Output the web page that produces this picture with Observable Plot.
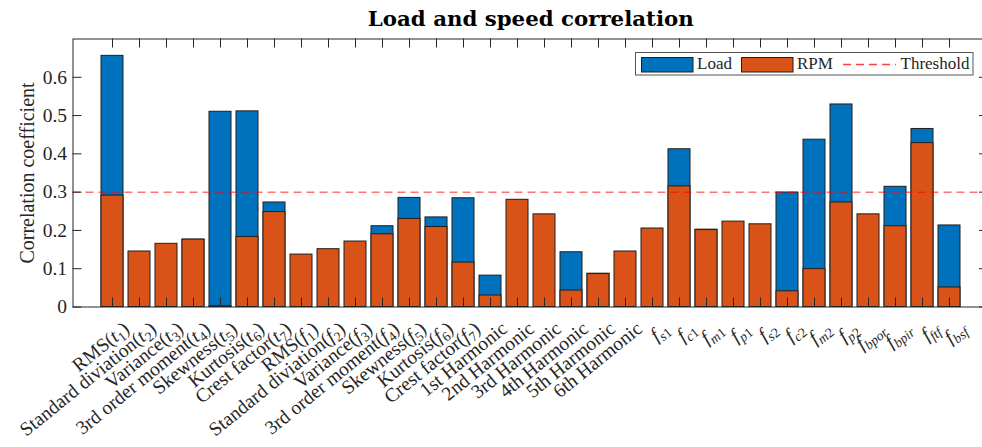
<!DOCTYPE html>
<html>
<head>
<meta charset="utf-8">
<script src="https://cdn.jsdelivr.net/npm/d3@7"></script>
<script src="https://cdn.jsdelivr.net/npm/@observablehq/plot@0.6"></script>
<style>
  body { margin: 0; background: #fff; }
  #chart { width: 982px; height: 447px; }
</style>
</head>
<body>
<div id="chart"></div>
<script>
// Feature names; "x_{..}" marks a math variable with a subscript.
const features = [
  "RMS(t_1)", "Standard diviation(t_2)", "Variance(t_3)", "3rd order moment(t_4)",
  "Skewness(t_5)", "Kurtosis(t_6)", "Crest factor(t_7)",
  "RMS(f_1)", "Standard diviation(f_2)", "Variance(f_3)", "3rd order moment(f_4)",
  "Skewness(f_5)", "Kurtosis(f_6)", "Crest factor(f_7)",
  "1st Harmonic", "2nd Harmonic", "3rd Harmonic", "4th Harmonic", "5th Harmonic", "6th Harmonic",
  "f_{s1}", "f_{c1}", "f_{m1}", "f_{p1}", "f_{s2}", "f_{c2}", "f_{m2}", "f_{p2}",
  "f_{bpor}", "f_{bpir}", "f_{ftf}", "f_{bsf}"
];

// Correlation with load (null where the load bar lies fully behind the RPM bar)
const load = [
  0.656, null, null, 0.176, 0.510, 0.511, 0.273,
  null, null, null, 0.211, 0.285, 0.234, 0.284,
  0.082, null, null, 0.143, 0.087, null,
  null, 0.412, 0.202, null, null, 0.299, 0.437, 0.529,
  null, 0.314, 0.465, 0.213
];

// Correlation with speed
const rpm = [
  0.291, 0.145, 0.165, 0.176, 0.002, 0.183, 0.248,
  0.137, 0.151, 0.171, 0.190, 0.230, 0.209, 0.116,
  0.030, 0.280, 0.242, 0.043, 0.086, 0.145,
  0.205, 0.315, 0.201, 0.223, 0.216, 0.041, 0.099, 0.273,
  0.242, 0.211, 0.428, 0.051
];

const threshold = 0.3;
const yTicks = [0, 0.1, 0.2, 0.3, 0.4, 0.5, 0.6];
const seriesNames = ["Load", "RPM", "Threshold"];
const title = "Load and speed correlation";
const yLabel = "Correlation coefficient";

const blue = "#0072BD";
const orange = "#D95319";
const edge = "#1f1f1f";
const axisColor = "#262626";
const serif = "Liberation Serif";
const fs = 19.5;        // axis text
const legendFs = 17;    // legend text

// layout
const W = 982, H = 447;
const mL = 72.5, mR = -6, mT = 38.5, mB = 140.5;
const frameW = W - mL - mR, frameH = H - mT - mB;
const tickLen = 9;

const table = features.map((f, i) => ({feature: f, load: load[i], rpm: rpm[i]}));

const textStyle = {fontFamily: serif, fontSize: fs, fill: axisColor};

const chart = Plot.plot({
  width: W,
  height: H,
  marginLeft: mL, marginRight: mR, marginTop: mT, marginBottom: mB,
  style: {background: "#fff", overflow: "visible"},
  x: {type: "band", domain: features, paddingInner: 0.2, paddingOuter: 0.61, axis: null},
  y: {domain: [0, 0.7], axis: null},
  marks: [
    Plot.barY(table, {x: "feature", y: "load", fill: blue, stroke: edge, strokeWidth: 1}),
    Plot.barY(table, {x: "feature", y: "rpm", fill: orange, stroke: edge, strokeWidth: 1}),
    Plot.ruleY([threshold], {y: d => d, stroke: "#ff0000", strokeOpacity: 0.55, strokeWidth: 1.5, strokeDasharray: "8,5"}),
    Plot.frame({stroke: axisColor, strokeWidth: 1}),
    // inward ticks on all four sides
    Plot.ruleX(features, {x: d => d, insetTop: frameH - tickLen, stroke: axisColor}),
    Plot.ruleX(features, {x: d => d, insetBottom: frameH - tickLen, stroke: axisColor}),
    Plot.ruleY(yTicks, {y: d => d, insetRight: frameW - tickLen, stroke: axisColor}),
    Plot.ruleY(yTicks, {y: d => d, insetLeft: frameW - tickLen, stroke: axisColor}),
    // y tick labels
    Plot.text(yTicks, {y: d => d, text: d => d === 0 ? "0" : d.toFixed(1), frameAnchor: "left", dx: -6, textAnchor: "end", ...textStyle}),
    // rotated feature labels
    Plot.text(features, {x: d => d, text: d => d, frameAnchor: "bottom", rotate: -39, textAnchor: "end", lineAnchor: "middle", dx: 14, dy: 19, ...textStyle}),
    // y axis label
    Plot.text([yLabel], {text: d => d, frameAnchor: "left", rotate: -90, dx: -39.5, textAnchor: "middle", lineAnchor: "bottom", ...textStyle, fontSize: 20}),
    // title
    Plot.text([title], {text: d => d, frameAnchor: "top", dy: -13.5, lineAnchor: "bottom", fontWeight: "bold", fontSize: 21.3, fontFamily: "DejaVu Serif", fill: "#000"})
  ]
});

document.getElementById("chart").appendChild(chart);

// Typeset "x_{...}" parts as italic variables with subscripts.
const svgNS = "http://www.w3.org/2000/svg";
const featureSet = new Set(features);
function typeset(el, s) {
  const m = s.match(/^(.*?)([A-Za-z])_(?:\{([^}]*)\}|(\w))(.*)$/);
  if (!m) return;
  el.textContent = "";
  const add = (txt, attrs) => {
    const t = document.createElementNS(svgNS, "tspan");
    t.textContent = txt;
    for (const [k, v] of Object.entries(attrs)) if (v != null) t.setAttribute(k, v);
    el.appendChild(t);
  };
  if (m[1]) add(m[1], {});
  add(m[2], {"font-style": "italic"});
  const sub = m[3] ?? m[4];
  (sub.match(/[A-Za-z]+|\d+/g) || []).forEach((p, j) => {
    add(p, {"font-size": "70%", "font-style": /\d/.test(p) ? "normal" : "italic", dy: j === 0 ? 4 : null});
  });
  if (m[5]) add(m[5], {dy: -4});
}
d3.select(chart).selectAll("text").each(function () {
  const s = this.textContent;
  if (featureSet.has(s)) typeset(this, s);
});

// Legend box in the upper right of the axes
const lg = d3.select(chart).append("g")
  .attr("font-family", serif).attr("font-size", legendFs).attr("fill", axisColor).attr("text-anchor", "start");
lg.append("rect").attr("x", 635.5).attr("y", 52.5).attr("width", 337.5).attr("height", 22.5)
  .attr("fill", "#fff").attr("stroke", "#555").attr("stroke-width", 1);
lg.append("rect").attr("x", 641.5).attr("y", 57.5).attr("width", 51.5).attr("height", 14.5).attr("fill", blue).attr("stroke", edge);
lg.append("text").attr("x", 697).attr("y", 68.5).text(seriesNames[0]);
lg.append("rect").attr("x", 741.5).attr("y", 57.5).attr("width", 51.5).attr("height", 14.5).attr("fill", orange).attr("stroke", edge);
lg.append("text").attr("x", 797).attr("y", 68.5).text(seriesNames[1]);
lg.append("line").attr("x1", 843).attr("x2", 896).attr("y1", 64.5).attr("y2", 64.5)
  .attr("stroke", "#ff0000").attr("stroke-opacity", 0.75).attr("stroke-width", 1.5).attr("stroke-dasharray", "8,5");
lg.append("text").attr("x", 900.5).attr("y", 68.5).text(seriesNames[2]);
</script>
</body>
</html>
